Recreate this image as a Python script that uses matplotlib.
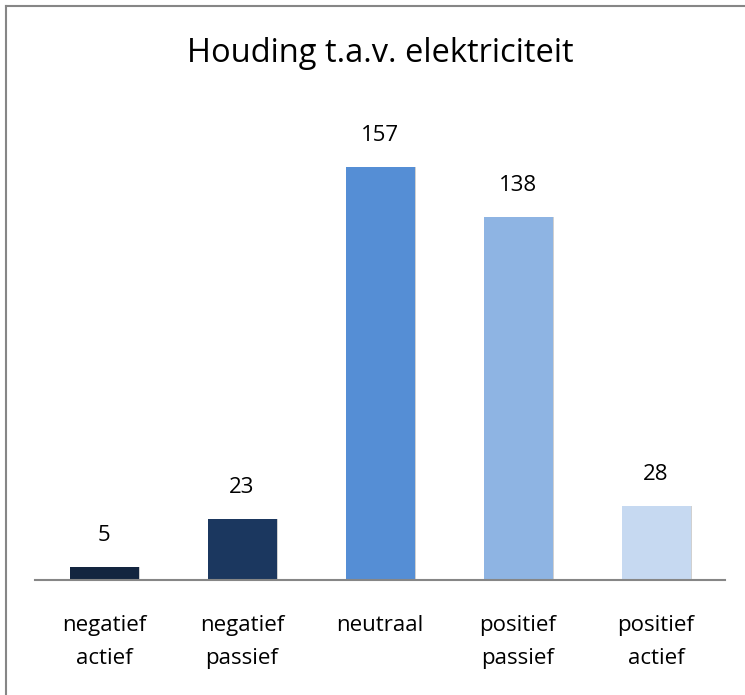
import matplotlib
matplotlib.use("Agg")
import matplotlib.pyplot as plt
from matplotlib.lines import Line2D

categories = ["negatief\nactief", "negatief\npassief", "neutraal", "positief\npassief", "positief\nactief"]
values = [5, 23, 157, 138, 28]
colors = ["#13253f", "#1b375f", "#558ed5", "#8eb4e3", "#c6d9f1"]
title = "Houding t.a.v. elektriciteit"

W, H = 745, 695
fig = plt.figure(figsize=(W / 100, H / 100), dpi=100)
plt.rcParams['font.family'] = ['Open Sans', 'DejaVu Sans']

ymax = 180
px_per_unit = 413 / 157
ax_h = ymax * px_per_unit
ax = fig.add_axes([35 / W, (H - 580) / H, 690 / W, ax_h / H])

x = list(range(len(values)))
# subtle shadow
ax.bar([i + 0.012 for i in x], values, width=0.5, color="#d0d0d0", zorder=1)
bars = ax.bar(x, values, width=0.5, color=colors, zorder=2)
for i, v in zip(x, values):
    ax.text(i, v + 8, str(v), ha="center", va="bottom", fontsize=16, color="#000000")

ax.set_xlim(-0.5, len(values) - 0.5)
ax.set_ylim(0, ymax)
for s in ["top", "right", "left"]:
    ax.spines[s].set_visible(False)
ax.spines["bottom"].set_color("#868686")
ax.spines["bottom"].set_linewidth(1.5)
ax.set_yticks([])
ax.set_xticks(x)
ax.set_xticklabels(categories, fontsize=16, linespacing=1.75)
ax.tick_params(axis="x", length=0, pad=25)

fig.text(380 / W, 1 - 54 / H, title, ha="center", va="center", fontsize=23.5)

# outer border (left and top visible)
fig.add_artist(Line2D([5.5 / W, 5.5 / W], [0, 1 - 6 / H], transform=fig.transFigure, color="#868686", lw=1.5))
fig.add_artist(Line2D([5.5 / W, 1], [1 - 6 / H, 1 - 6 / H], transform=fig.transFigure, color="#868686", lw=1.5))

fig.savefig("out.png", dpi=100)
